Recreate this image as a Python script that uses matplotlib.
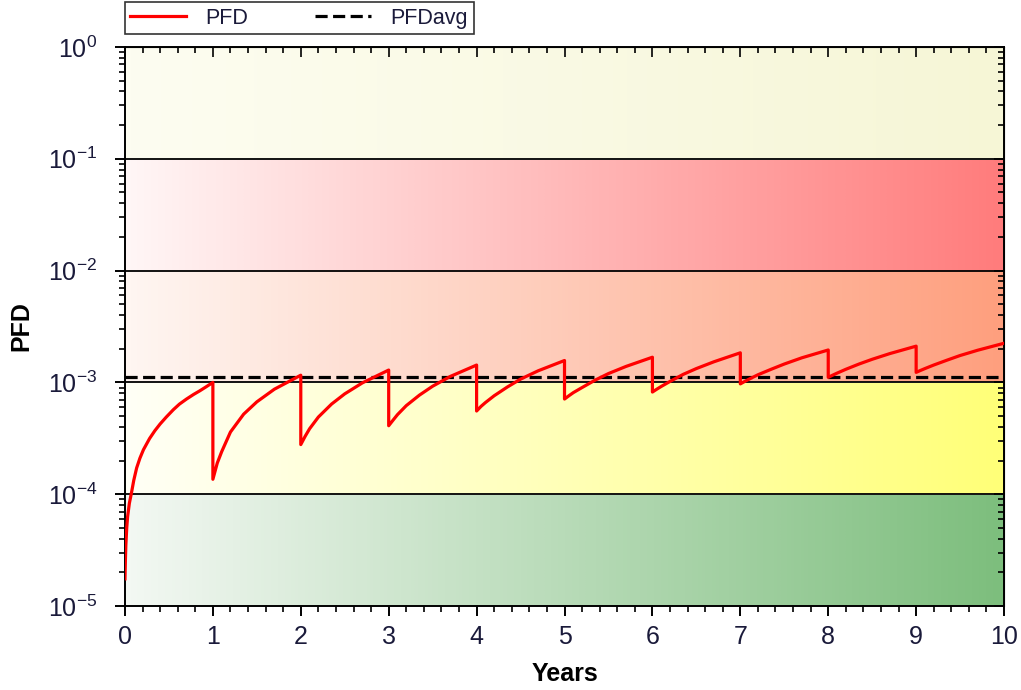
import numpy as np
import matplotlib
matplotlib.use("Agg")
import matplotlib.pyplot as plt
from matplotlib.ticker import MultipleLocator, LogLocator, NullFormatter
from matplotlib.colors import LinearSegmentedColormap

plt.rcParams['font.family'] = ['Liberation Sans', 'DejaVu Sans']
plt.rcParams['mathtext.default'] = 'regular'

# PFD, one list per proof-test interval
# interval 1 (year 0-1), sharp rise so more points
t_first = [0.0, 0.005, 0.01, 0.02, 0.03, 0.05, 0.076, 0.1, 0.133, 0.17, 0.21,
           0.28, 0.34, 0.40, 0.47, 0.55, 0.62, 0.70, 0.78, 0.85, 0.92, 1.0]
pfd_first = [1.75e-5, 2.6e-5, 3.5e-5, 5.0e-5, 6.3e-5, 8.3e-5, 1.05e-4, 1.33e-4,
             1.72e-4, 2.1e-4, 2.5e-4, 3.15e-4, 3.7e-4, 4.25e-4, 4.9e-4, 5.7e-4,
             6.4e-4, 7.1e-4, 7.8e-4, 8.4e-4, 9.1e-4, 1.0e-3]

# intervals 2..10, values at fraction of the year
frac = [0.0, 0.05, 0.1, 0.2, 0.35, 0.5, 0.7, 1.0]
pfd_y2 = [1.36e-4, 1.9e-4, 2.4e-4, 3.6e-4, 5.2e-4, 6.7e-4, 8.7e-4, 1.16e-3]
pfd_y3 = [2.78e-4, 3.3e-4, 3.85e-4, 4.9e-4, 6.4e-4, 7.9e-4, 9.9e-4, 1.29e-3]
pfd_y4 = [4.1e-4, 4.6e-4, 5.15e-4, 6.2e-4, 7.7e-4, 9.25e-4, 1.13e-3, 1.43e-3]
pfd_y5 = [5.55e-4, 6.1e-4, 6.6e-4, 7.6e-4, 9.1e-4, 1.07e-3, 1.27e-3, 1.57e-3]
pfd_y6 = [7.1e-4, 7.6e-4, 8.1e-4, 9.0e-4, 1.05e-3, 1.2e-3, 1.39e-3, 1.68e-3]
pfd_y7 = [8.2e-4, 8.7e-4, 9.2e-4, 1.02e-3, 1.18e-3, 1.33e-3, 1.53e-3, 1.84e-3]
pfd_y8 = [9.7e-4, 1.02e-3, 1.07e-3, 1.17e-3, 1.31e-3, 1.46e-3, 1.66e-3, 1.95e-3]
pfd_y9 = [1.11e-3, 1.16e-3, 1.21e-3, 1.31e-3, 1.46e-3, 1.61e-3, 1.81e-3, 2.11e-3]
pfd_y10 = [1.23e-3, 1.28e-3, 1.33e-3, 1.43e-3, 1.58e-3, 1.74e-3, 1.94e-3, 2.24e-3]
pfd_avg = 1.11e-3

# background bands: (low, high, left colour, right colour)
band_lo = [1e-5, 1e-4, 1e-3, 1e-2, 1e-1]
band_hi = [1e-4, 1e-3, 1e-2, 1e-1, 1e0]
band_left = ['#f3f8f3', '#fffff6', '#fff6f2', '#fff6f6', '#fdfdf1']
band_right = ['#7dbe7d', '#ffff78', '#fe9f7e', '#ff7c7c', '#f6f6d6']

t = list(t_first)
v = list(pfd_first)
for i, vals in enumerate([pfd_y2, pfd_y3, pfd_y4, pfd_y5, pfd_y6,
                          pfd_y7, pfd_y8, pfd_y9, pfd_y10]):
    t += [i + 1 + f for f in frac]
    v += vals

fig = plt.figure(figsize=(10.21, 6.9), dpi=100)
ax = fig.add_axes([0.1224, 0.1217, 0.8610, 0.8102])
ax.set_yscale('log')

grad = np.linspace(0, 1, 256).reshape(1, -1)
for lo, hi, cl, cr in zip(band_lo, band_hi, band_left, band_right):
    cm = LinearSegmentedColormap.from_list('b', [cl, cr])
    ax.imshow(grad, cmap=cm, aspect='auto', extent=[0, 10, lo, hi],
              interpolation='bilinear', zorder=0)
ax.set_xlim(0, 10)
ax.set_ylim(1e-5, 1)

for y in band_lo[1:]:
    ax.axhline(y, color='black', lw=1.3, zorder=1)

ax.plot(t, v, color='red', lw=2.3, label='PFD', zorder=3)
ax.axhline(pfd_avg, color='black', lw=2.3, ls=(0, (3.8, 1.7)), label='PFDavg', zorder=2)

txt = '#1a1a3a'
ax.xaxis.set_major_locator(MultipleLocator(1))
ax.xaxis.set_minor_locator(MultipleLocator(0.2))
ax.yaxis.set_major_locator(LogLocator(base=10, numticks=10))
ax.yaxis.set_minor_locator(LogLocator(base=10, subs=np.arange(2, 10), numticks=10))
ax.yaxis.set_minor_formatter(NullFormatter())
ax.tick_params(which='major', direction='out', length=7, width=1.4,
               labelsize=18, labelcolor=txt)
ax.tick_params(axis='x', which='major', pad=7)
ax.tick_params(axis='y', which='major', pad=13)
ax.tick_params(which='minor', direction='out', length=4, width=1.2)
for s in ax.spines.values():
    s.set_linewidth(1.4)

top = ax.secondary_xaxis('top')
top.xaxis.set_major_locator(MultipleLocator(1))
top.xaxis.set_minor_locator(MultipleLocator(0.2))
top.tick_params(which='both', direction='in', labeltop=False, width=1.2)
top.tick_params(which='major', length=7)
top.tick_params(which='minor', length=4)
right = ax.secondary_yaxis('right')
right.yaxis.set_major_locator(LogLocator(base=10, numticks=10))
right.yaxis.set_minor_locator(LogLocator(base=10, subs=np.arange(2, 10), numticks=10))
right.yaxis.set_minor_formatter(NullFormatter())
right.tick_params(which='both', direction='in', labelright=False, width=1.2)
right.tick_params(which='major', length=7)
right.tick_params(which='minor', length=4)

ax.set_xlabel('Years', fontsize=18, fontweight='bold', labelpad=9)
ax.set_ylabel('PFD', fontsize=18, fontweight='bold', labelpad=10)

leg = ax.legend(loc='lower left', bbox_to_anchor=(0.0, 1.023), ncol=2,
                fontsize=15.5, frameon=True, fancybox=False, edgecolor='black',
                handlelength=2.6, handletextpad=0.9, columnspacing=3.1,
                borderpad=0.25, borderaxespad=0.0, labelcolor=txt)
leg.get_frame().set_linewidth(1.2)

fig.savefig('out.png', dpi=100)
